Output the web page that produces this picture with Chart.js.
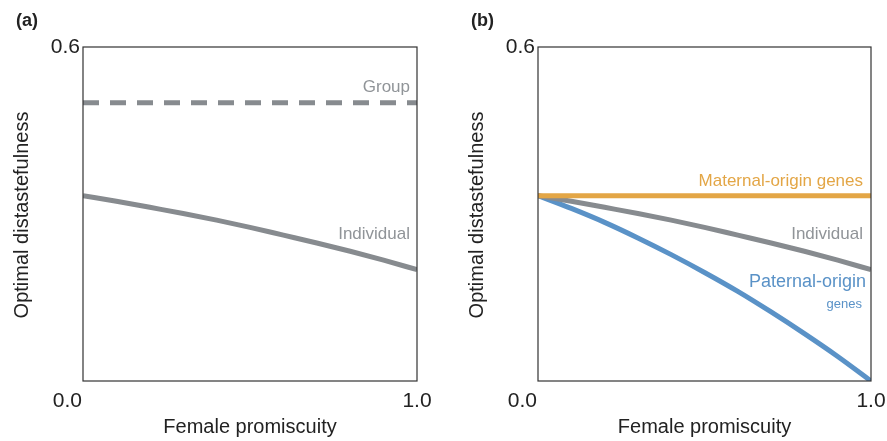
<!DOCTYPE html>
<html>
<head>
<meta charset="utf-8">
<script src="https://cdn.jsdelivr.net/npm/chart.js@4"></script>
<style>
  body { margin: 0; background: #fff; }
  .panel { position: absolute; top: 0; height: 441px; }
  #panel-a { left: 0; width: 443px; }
  #panel-b { left: 443px; width: 444px; }
</style>
</head>
<body>
<div class="panel" id="panel-a"><canvas id="chart-a"></canvas></div>
<div class="panel" id="panel-b"><canvas id="chart-b"></canvas></div>
<script>
const promiscuity = [0, 0.1, 0.2, 0.3, 0.4, 0.5, 0.6, 0.7, 0.8, 0.9, 1.0];
const groupValues = [0.5, 0.5, 0.5, 0.5, 0.5, 0.5, 0.5, 0.5, 0.5, 0.5, 0.5];
const individualValues = [0.333, 0.323, 0.312, 0.301, 0.289, 0.276, 0.262, 0.248, 0.233, 0.217, 0.2];
const maternalValues = [0.333, 0.333, 0.333, 0.333, 0.333, 0.333, 0.333, 0.333, 0.333, 0.333, 0.333];
const paternalValues = [0.333, 0.310, 0.285, 0.257, 0.227, 0.195, 0.161, 0.124, 0.085, 0.044, 0.0];
const xTickLabels = ["0.0", "1.0"];
const yTickLabels = ["0.6"];

const GREY = "#878b8f";
const ORANGE = "#e3a646";
const BLUE = "#5a92c7";
const FONT = "'Liberation Sans', Arial, sans-serif";

function toPoints(values) {
    return promiscuity.map((x, i) => ({ x: x, y: values[i] }));
}

function lineDataset(values, color, dashed) {
    return {
        data: toPoints(values),
        borderColor: color,
        borderWidth: 5,
        borderDash: dashed ? [16, 11] : [],
        pointRadius: 0,
        tension: 0.4,
        cubicInterpolationMode: "monotone",
        fill: false,
    };
}

// draws frame, tick labels, titles and in-plot labels
function annotationsPlugin(panelLetter, shift, labels) {
    return {
        id: "annotations" + panelLetter,
        afterDraw(chart) {
            const ctx = chart.ctx;
            const area = chart.chartArea;
            const xs = chart.scales.x;
            const ys = chart.scales.y;
            ctx.save();

            ctx.strokeStyle = "#333";
            ctx.lineWidth = 1.2;
            ctx.strokeRect(area.left, area.top, area.right - area.left, area.bottom - area.top);

            ctx.fillStyle = "#222";
            ctx.font = "bold 18px " + FONT;
            ctx.textAlign = "left";
            ctx.textBaseline = "middle";
            ctx.fillText("(" + panelLetter + ")", 16 + shift, 21);

            ctx.font = "21px " + FONT;
            ctx.textAlign = "right";
            ctx.fillText(yTickLabels[0], area.left - 3, ys.getPixelForValue(0.6));
            ctx.fillText(xTickLabels[0], area.left - 1, 401);
            ctx.textAlign = "center";
            ctx.fillText(xTickLabels[1], xs.getPixelForValue(1.0), 401);

            ctx.font = "20px " + FONT;
            ctx.fillText("Female promiscuity", (area.left + area.right) / 2, 427);

            ctx.save();
            ctx.translate(22 + shift, 215);
            ctx.rotate(-Math.PI / 2);
            ctx.fillText("Optimal distastefulness", 0, 0);
            ctx.restore();

            for (const lab of labels) {
                ctx.font = lab.size + "px " + FONT;
                ctx.fillStyle = lab.color;
                ctx.textAlign = "right";
                ctx.fillText(lab.text, lab.x, lab.y);
            }
            ctx.restore();
        }
    };
}

function makeChart(canvasId, datasets, padLeft, padRight, plugin) {
    return new Chart(document.getElementById(canvasId), {
        type: "line",
        data: { datasets: datasets },
        options: {
            responsive: true,
            maintainAspectRatio: false,
            animation: false,
            layout: { padding: { left: padLeft, right: padRight, top: 47, bottom: 60 } },
            plugins: { legend: { display: false }, tooltip: { enabled: false } },
            scales: {
                x: { type: "linear", min: 0, max: 1, display: false },
                y: { type: "linear", min: 0, max: 0.6, display: false },
            },
        },
        plugins: [plugin],
    });
}

makeChart("chart-a", [
    lineDataset(groupValues, GREY, true),
    lineDataset(individualValues, GREY, false),
], 83, 26, annotationsPlugin("a", 0, [
    { text: "Group", x: 410, y: 87, size: 17, color: "#909498" },
    { text: "Individual", x: 410, y: 234, size: 17, color: "#909498" },
]));

makeChart("chart-b", [
    lineDataset(maternalValues, ORANGE, false),
    lineDataset(individualValues, GREY, false),
    lineDataset(paternalValues, BLUE, false),
], 95, 16, annotationsPlugin("b", 12, [
    { text: "Maternal-origin genes", x: 420, y: 181, size: 17, color: ORANGE },
    { text: "Individual", x: 420, y: 234, size: 17, color: "#909498" },
    { text: "Paternal-origin", x: 423, y: 282, size: 18, color: BLUE },
    { text: "genes", x: 419, y: 304, size: 13, color: BLUE },
]));
</script>
</body>
</html>
